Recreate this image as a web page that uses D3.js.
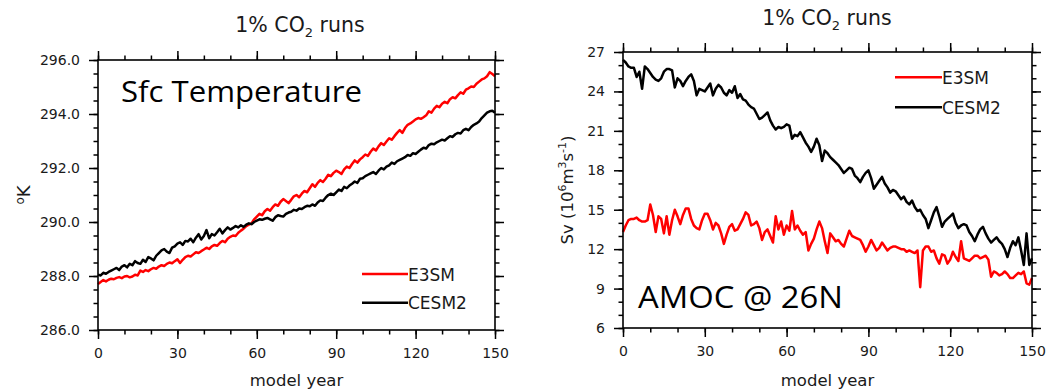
<!DOCTYPE html>
<html>
<head>
<meta charset="utf-8">
<script src="https://cdn.jsdelivr.net/npm/d3@7"></script>
<style>
  body { margin: 0; background: #fff; }
  svg text { font-family: "DejaVu Sans", sans-serif; fill: #1a1a1a; }
  .big { font-family: "Open Sans", sans-serif; fill: #000; }
</style>
</head>
<body>
<div id="chart"></div>
<script>
const width = 1059;
const height = 391;

// model years 0..150
const years = d3.range(0, 151);

const seriesNames = ["E3SM", "CESM2"];
const seriesColors = ["#ff0000", "#000000"];

// Sfc temperature (K)
const tempE3SM = [
  287.70, 287.78, 287.85, 287.80, 287.86, 287.90, 287.88, 287.93, 287.96, 287.92,
  287.98, 288.00, 287.95, 287.98, 288.05, 288.02, 288.20, 288.15, 288.22, 288.18,
  288.25, 288.30, 288.27, 288.35, 288.40, 288.37, 288.45, 288.50, 288.47, 288.55,
  288.62, 288.48, 288.60, 288.70, 288.75, 288.72, 288.80, 288.88, 288.85, 288.92,
  288.98, 289.05, 289.00, 289.10, 289.15, 289.12, 289.22, 289.30, 289.25, 289.38,
  289.45, 289.50, 289.48, 289.60, 289.68, 289.75, 289.85, 289.90, 289.95, 290.10,
  290.20, 290.30, 290.25, 290.40, 290.48, 290.42, 290.55, 290.65, 290.60, 290.75,
  290.85, 290.78, 290.70, 290.82, 290.95, 291.00, 290.92, 291.05, 291.15, 291.10,
  291.25, 291.40, 291.30, 291.45, 291.55, 291.48, 291.60, 291.75, 291.70, 291.82,
  291.90, 291.85, 291.78, 291.95, 292.05, 292.00, 292.15, 292.28, 292.20, 292.32,
  292.40, 292.50, 292.45, 292.60, 292.72, 292.65, 292.80, 292.92, 292.85, 292.98,
  293.10, 293.05, 293.18, 293.30, 293.40, 293.30, 293.48, 293.60, 293.65, 293.72,
  293.80, 293.85, 293.82, 293.88, 293.95, 294.10, 294.05, 294.20, 294.30, 294.25,
  294.38, 294.45, 294.40, 294.55, 294.62, 294.58, 294.70, 294.80, 294.75, 294.90,
  294.95, 295.02, 295.00, 295.12, 295.20, 295.28, 295.32, 295.40, 295.55, 295.48,
  295.40
];
const tempCESM2 = [
  288.05, 288.02, 288.12, 288.08, 288.15, 288.20, 288.25, 288.30, 288.22, 288.35,
  288.40, 288.32, 288.45, 288.40, 288.55, 288.48, 288.45, 288.60, 288.52, 288.70,
  288.65, 288.58, 288.75, 288.85, 288.95, 289.00, 288.90, 288.85, 289.05, 289.10,
  289.20, 289.25, 289.15, 289.30, 289.28, 289.38, 289.25, 289.42, 289.55, 289.35,
  289.48, 289.70, 289.40, 289.55, 289.50, 289.62, 289.75, 289.58, 289.70, 289.80,
  289.72, 289.78, 289.85, 289.80, 289.88, 289.82, 289.90, 289.95, 289.92, 290.00,
  290.05, 290.10, 290.08, 290.12, 290.15, 290.10, 290.05, 290.18, 290.25, 290.22,
  290.20, 290.30, 290.35, 290.38, 290.45, 290.42, 290.50, 290.48, 290.55, 290.60,
  290.58, 290.65, 290.60, 290.72, 290.80, 290.78, 290.90, 291.00, 291.05, 291.00,
  291.10, 291.20, 291.15, 291.30, 291.25, 291.35, 291.42, 291.50, 291.45, 291.60,
  291.62, 291.70, 291.75, 291.80, 291.85, 291.78, 291.90, 292.00, 291.95, 292.05,
  292.10, 292.20, 292.15, 292.25, 292.30, 292.35, 292.40, 292.48, 292.45, 292.55,
  292.52, 292.60, 292.68, 292.75, 292.72, 292.85, 292.90, 292.88, 292.95, 293.00,
  293.05, 293.02, 293.10, 293.18, 293.15, 293.25, 293.30, 293.28, 293.40, 293.45,
  293.40, 293.52, 293.60, 293.65, 293.72, 293.85, 293.95, 294.05, 294.10, 294.12,
  294.05
];

// AMOC @ 26N (Sv)
const amocE3SM = [
  13.3, 13.8, 14.2, 14.3, 14.3, 14.4, 14.2, 14.1, 14.1, 14.2,
  15.4, 14.6, 13.3, 14.5, 14.3, 13.2, 14.5, 13.1, 14.2, 15.0,
  14.5, 13.9, 14.6, 15.1, 15.1, 14.3, 13.8, 13.6, 13.5, 14.2,
  14.7, 14.7, 14.2, 13.5, 14.0, 13.8, 13.2, 12.4, 13.1, 13.7,
  13.9, 13.4, 13.5, 13.9, 14.3, 14.8, 14.6, 13.8, 13.9, 14.1,
  13.6, 12.7, 13.3, 13.5, 13.0, 12.5, 14.5, 13.5, 14.1, 13.1,
  13.8, 13.4, 14.9, 13.5, 13.8, 13.4, 13.1, 13.3, 11.9, 12.4,
  12.8, 13.5, 14.1, 13.6, 12.6, 11.7, 13.2, 12.9, 12.6, 12.7,
  12.4, 12.2, 12.8, 13.4, 13.0, 12.9, 12.8, 12.7, 12.3, 11.8,
  12.2, 12.7, 12.3, 11.9, 12.1, 12.5, 12.2, 11.9, 12.1, 12.2,
  12.2, 12.1, 12.0, 12.0, 11.8, 11.9, 11.8, 11.7, 11.9, 9.1,
  11.9, 12.2, 12.2, 11.8, 11.9, 11.3, 10.9, 11.6, 11.5, 10.9,
  11.2, 11.8, 11.4, 11.1, 12.6, 11.3, 11.2, 11.1, 11.3, 11.5,
  11.5, 11.3, 11.4, 11.5, 11.2, 9.9, 10.3, 10.2, 10.0, 10.1,
  10.3, 10.1, 9.8, 9.8, 10.0, 10.2, 10.1, 10.3, 9.4, 9.3,
  9.8
];
const amocCESM2 = [
  26.4, 26.2, 25.9, 25.8, 25.8, 25.1, 25.5, 24.2, 25.9, 25.7,
  25.4, 25.1, 24.9, 24.8, 25.0, 25.5, 25.7, 25.7, 25.6, 24.3,
  25.0, 24.8, 24.4, 24.8, 25.1, 25.3, 24.8, 23.7, 24.2, 24.1,
  24.0, 24.3, 24.6, 23.7, 24.2, 24.5, 24.3, 23.9, 23.7, 24.1,
  23.9, 24.4, 23.5, 23.8, 23.4, 23.3, 23.0, 22.8, 22.7, 22.3,
  21.9, 22.0, 22.2, 22.4, 21.8, 21.4, 21.1, 21.3, 21.2, 21.3,
  21.5, 21.4, 20.4, 20.7, 20.6, 20.9, 20.5, 20.1, 19.8, 19.4,
  19.8, 20.4, 19.9, 18.7, 19.5, 19.3, 19.0, 18.8, 18.6, 18.4,
  18.1, 17.8, 18.0, 18.2, 18.1, 17.6, 17.4, 17.1, 17.5, 17.8,
  18.0, 17.4, 16.6, 16.9, 17.2, 17.5, 17.0, 16.7, 16.3, 16.5,
  16.4, 16.1, 15.8, 16.0, 15.6, 15.4, 15.7, 15.2, 14.9, 15.0,
  14.6, 14.3, 13.6, 14.2, 14.8, 15.2, 14.5, 13.7, 14.1, 14.3,
  14.5, 14.7, 14.0, 13.6, 13.8, 13.9, 13.8, 13.3, 13.0, 12.6,
  13.1, 13.5, 13.7, 13.2, 12.8, 12.5, 12.7, 12.9, 12.6, 12.4,
  12.0, 11.4, 12.1, 12.6, 12.3, 12.9, 11.9, 10.8, 13.2, 10.8,
  11.3
];

const xTicks = [0, 30, 60, 90, 120, 150];
const tempTicks = [286, 288, 290, 292, 294, 296];
const amocTicks = [6, 9, 12, 15, 18, 21, 24, 27];

const svg = d3.select("#chart")
  .append("svg")
  .attr("width", width)
  .attr("height", height);

const panels = [
  {
    left: 98, right: 495, top: 60, bottom: 330,
    yDomain: [286, 296], yTicks: tempTicks, yMinorStep: 0.5, yFormat: d3.format(".1f"),
    series: [tempE3SM, tempCESM2],
    titleX: 300, titleY: 32,
    yLabelX: 30,
    legend: { x1: 362, x2: 408, y: 274, dy: 28.7 },
    big: { text: "Sfc Temperature", x: 121, y: 102, size: 30, len: 241 }
  },
  {
    left: 623, right: 1032, top: 52, bottom: 328,
    yDomain: [6, 27], yTicks: amocTicks, yMinorStep: 1, yFormat: d3.format("d"),
    series: [amocE3SM, amocCESM2],
    titleX: 827, titleY: 25,
    yLabelX: 573,
    legend: { x1: 895, x2: 942, y: 77.3, dy: 30 },
    big: { text: "AMOC @ 26N", x: 638, y: 308, size: 31, len: 205 }
  }
];

function styleAxis(a) {
  a.select(".domain").remove();
  a.selectAll("line").attr("stroke", "#000").attr("stroke-width", 1.5);
  a.selectAll("text").attr("font-size", 14).attr("fill", "#1a1a1a");
}

panels.forEach((p, idx) => {
  const x = d3.scaleLinear().domain([0, 150]).range([p.left, p.right]);
  const y = d3.scaleLinear().domain(p.yDomain).range([p.bottom, p.top]);
  const g = svg.append("g");

  const xMinor = d3.range(0, 151, 10);
  const yMinor = d3.range(p.yDomain[0], p.yDomain[1] + 0.001, p.yMinorStep);

  // ticks minor (outward, 4 sides)
  g.append("g").attr("transform", `translate(0,${p.bottom})`)
    .call(d3.axisBottom(x).tickValues(xMinor).tickSize(4.5).tickFormat("")).call(styleAxis);
  g.append("g").attr("transform", `translate(0,${p.top})`)
    .call(d3.axisTop(x).tickValues(xMinor).tickSize(4.5).tickFormat("")).call(styleAxis);
  g.append("g").attr("transform", `translate(${p.left},0)`)
    .call(d3.axisLeft(y).tickValues(yMinor).tickSize(4.5).tickFormat("")).call(styleAxis);
  g.append("g").attr("transform", `translate(${p.right},0)`)
    .call(d3.axisRight(y).tickValues(yMinor).tickSize(4.5).tickFormat("")).call(styleAxis);

  // ticks majeurs
  g.append("g").attr("transform", `translate(0,${p.bottom})`)
    .call(d3.axisBottom(x).tickValues(xTicks).tickSize(9).tickPadding(9)).call(styleAxis);
  g.append("g").attr("transform", `translate(0,${p.top})`)
    .call(d3.axisTop(x).tickValues(xTicks).tickSize(9).tickFormat("")).call(styleAxis);
  g.append("g").attr("transform", `translate(${p.left},0)`)
    .call(d3.axisLeft(y).tickValues(p.yTicks).tickSize(9).tickPadding(9).tickFormat(p.yFormat)).call(styleAxis);
  g.append("g").attr("transform", `translate(${p.right},0)`)
    .call(d3.axisRight(y).tickValues(p.yTicks).tickSize(9).tickFormat("")).call(styleAxis);

  // series
  const line = d3.line()
    .x((d, i) => x(years[i]))
    .y(d => y(d));
  p.series.forEach((s, k) => {
    g.append("path")
      .datum(s)
      .attr("d", line)
      .attr("fill", "none")
      .attr("stroke", seriesColors[k])
      .attr("stroke-width", 2.5)
      .attr("stroke-linejoin", "round");
  });

  // cadre
  g.append("rect")
    .attr("x", p.left).attr("y", p.top)
    .attr("width", p.right - p.left).attr("height", p.bottom - p.top)
    .attr("fill", "none").attr("stroke", "#000").attr("stroke-width", 1.6);

  // legend
  seriesNames.forEach((name, k) => {
    const ly = p.legend.y + k * p.legend.dy;
    g.append("line")
      .attr("x1", p.legend.x1).attr("x2", p.legend.x2)
      .attr("y1", ly).attr("y2", ly)
      .attr("stroke", seriesColors[k]).attr("stroke-width", 2.5);
    g.append("text")
      .attr("x", p.legend.x2).attr("y", ly + 6.5)
      .attr("font-size", 17)
      .text(name);
  });

  // titre
  const t = g.append("text")
    .attr("x", p.titleX).attr("y", p.titleY)
    .attr("text-anchor", "middle")
    .attr("font-size", 20.5);
  t.append("tspan").text("1% CO");
  t.append("tspan").attr("font-size", 13).attr("dy", 5).text("2");
  t.append("tspan").attr("dy", -5).text(" runs");

  // x label
  g.append("text")
    .attr("x", (p.left + p.right) / 2).attr("y", 386)
    .attr("text-anchor", "middle")
    .attr("font-size", 16.5)
    .text("model year");

  // y label
  const yl = g.append("text")
    .attr("transform", `translate(${p.yLabelX},${(p.top + p.bottom) / 2}) rotate(-90)`)
    .attr("text-anchor", "middle")
    .attr("font-size", 16.5);
  if (idx === 0) {
    yl.append("tspan").attr("font-size", 12).attr("dy", -6).text("o");
    yl.append("tspan").attr("font-size", 18).attr("dy", 6).text("K");
  } else {
    yl.append("tspan").text("Sv (10");
    yl.append("tspan").attr("font-size", 11).attr("dy", -7).text("6");
    yl.append("tspan").attr("dy", 7).text("m");
    yl.append("tspan").attr("font-size", 11).attr("dy", -7).text("3");
    yl.append("tspan").attr("dy", 7).text("s");
    yl.append("tspan").attr("font-size", 11).attr("dy", -7).text("-1");
    yl.append("tspan").attr("dy", 7).text(")");
  }

  // big annotation
  g.append("text")
    .attr("class", "big")
    .attr("x", p.big.x).attr("y", p.big.y)
    .attr("font-size", p.big.size)
    .attr("textLength", p.big.len)
    .attr("lengthAdjust", "spacingAndGlyphs")
    .text(p.big.text);
});
</script>
</body>
</html>
